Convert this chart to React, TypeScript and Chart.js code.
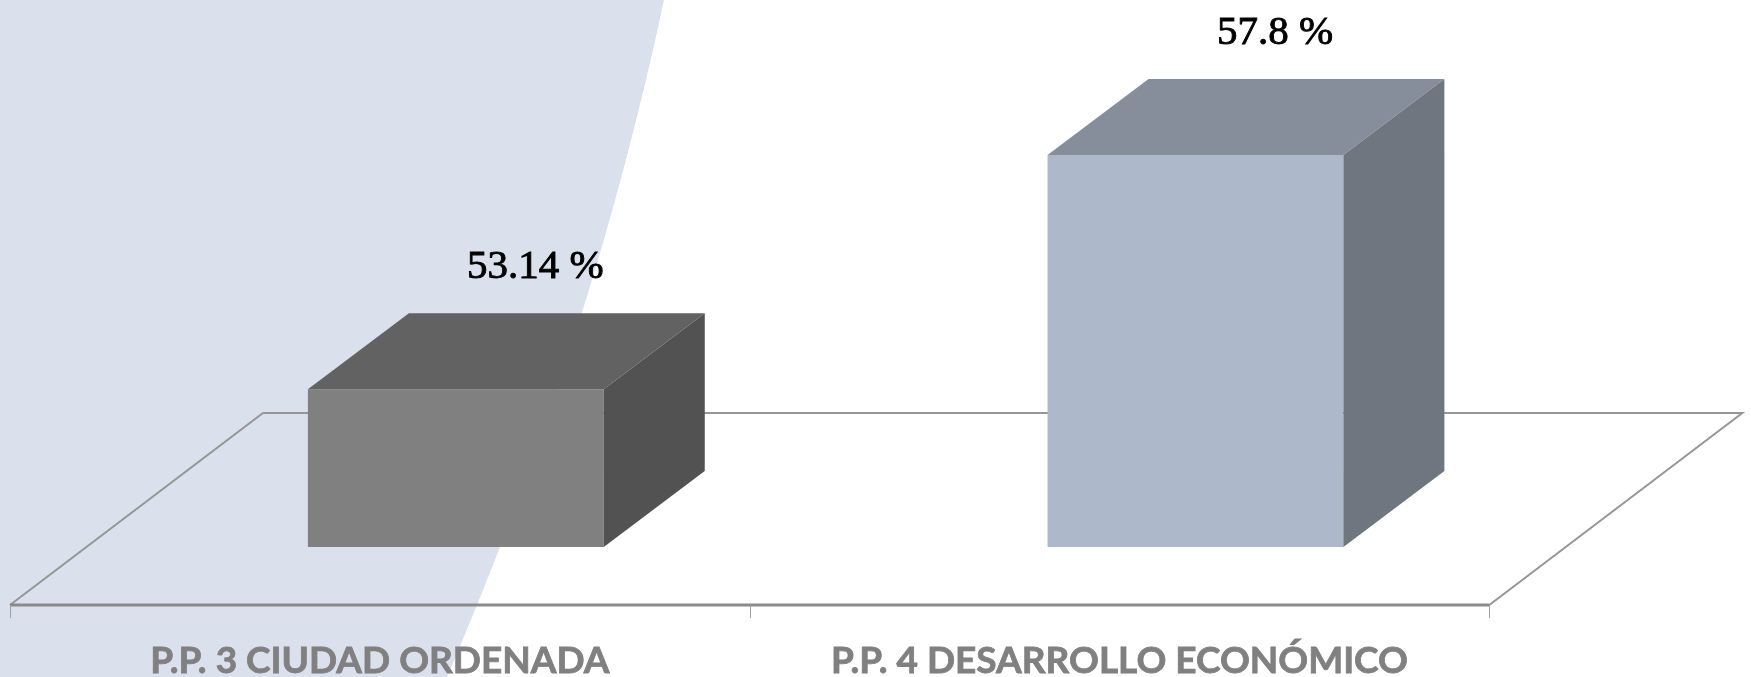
import { useEffect, useRef } from 'react';
import { Chart, registerables } from 'chart.js';

Chart.register(...registerables);

// ---- data ----
const categories = ['P.P. 3 CIUDAD ORDENADA', 'P.P. 4 DESARROLLO ECONÓMICO'];
const values = [53.14, 57.8];
const valueLabels = ['53.14 %', '57.8 %'];
const axisMin = 50;
const axisMax = 60;

// ---- styles ----
const frontColors = ['#808080', '#ADB9CA'];
const topColors = ['#626262', '#858E9A'];
const sideColors = ['#525252', '#6F7680'];
const BG_BLUE = '#DAE0EC';

const FLOOR_DX = 253;
const FLOOR_DY = 192;
const BAR_DX = 101;
const BAR_DY = 76;
const SHIFT_X = (FLOOR_DX - BAR_DX) / 2;
const SHIFT_Y = (FLOOR_DY - BAR_DY) / 2;

const threeD = {
  id: 'threeD',
  beforeDraw(chart: any) {
    const ctx = chart.ctx;
    const h = chart.height;
    ctx.save();
    ctx.fillStyle = BG_BLUE;
    ctx.beginPath();
    ctx.moveTo(0, 0);
    ctx.lineTo(664, 0);
    ctx.quadraticCurveTo(592, h / 2, 447, h);
    ctx.lineTo(0, h);
    ctx.closePath();
    ctx.fill();
    ctx.restore();
  },
  beforeDatasetsDraw(chart: any) {
    const { ctx, chartArea: a, scales } = chart;
    const xs = scales.x;
    const fl = a.left - SHIFT_X;
    const fr = a.right - SHIFT_X;
    const fy = a.bottom + SHIFT_Y;
    ctx.save();
    // floor outline
    ctx.strokeStyle = '#969696';
    ctx.lineWidth = 2;
    ctx.beginPath();
    ctx.moveTo(fl, fy);
    ctx.lineTo(fl + FLOOR_DX, fy - FLOOR_DY);
    ctx.lineTo(fr + FLOOR_DX, fy - FLOOR_DY);
    ctx.lineTo(fr, fy);
    ctx.stroke();
    ctx.strokeStyle = '#8A8A8A';
    ctx.lineWidth = 3;
    ctx.beginPath();
    ctx.moveTo(fl, fy);
    ctx.lineTo(fr, fy);
    ctx.stroke();
    // ticks
    const n = categories.length;
    const catW = (a.right - a.left) / n;
    ctx.strokeStyle = '#A0A0A0';
    ctx.lineWidth = 1;
    for (let i = 0; i <= n; i++) {
      const tx = Math.round(fl + i * catW) + 0.5;
      ctx.beginPath();
      ctx.moveTo(tx, fy);
      ctx.lineTo(tx, fy + 13);
      ctx.stroke();
    }
    // category labels
    ctx.fillStyle = '#808080';
    ctx.strokeStyle = '#808080';
    ctx.lineWidth = 0.8;
    ctx.font = 'bold 37px Lato';
    ctx.textAlign = 'center';
    ctx.textBaseline = 'alphabetic';
    xs.getLabels().forEach((lab: string, i: number) => {
      const lx = xs.getPixelForValue(i) - SHIFT_X;
      ctx.fillText(lab, lx, fy + 68);
      ctx.strokeText(lab, lx, fy + 68);
    });
    ctx.restore();
  },
  afterDatasetsDraw(chart: any) {
    const ctx = chart.ctx;
    const meta = chart.getDatasetMeta(0);
    const bottom = chart.chartArea.bottom;
    ctx.save();
    meta.data.forEach((el: any, i: number) => {
      const p = el.getProps(['x', 'y', 'base', 'width'], true);
      const { x, y, width } = p;
      const base = Math.min(p.base, bottom);
      const l = x - width / 2;
      const r = x + width / 2;
      // top face
      ctx.fillStyle = topColors[i];
      ctx.beginPath();
      ctx.moveTo(l, y);
      ctx.lineTo(r, y);
      ctx.lineTo(r + BAR_DX, y - BAR_DY);
      ctx.lineTo(l + BAR_DX, y - BAR_DY);
      ctx.closePath();
      ctx.fill();
      // side face
      ctx.fillStyle = sideColors[i];
      ctx.beginPath();
      ctx.moveTo(r, y);
      ctx.lineTo(r + BAR_DX, y - BAR_DY);
      ctx.lineTo(r + BAR_DX, base - BAR_DY);
      ctx.lineTo(r, base);
      ctx.closePath();
      ctx.fill();
      // value label
      ctx.fillStyle = '#000000';
      ctx.strokeStyle = '#000000';
      ctx.lineWidth = 0.9;
      ctx.font = '41px "Liberation Serif"';
      ctx.textAlign = 'center';
      ctx.textBaseline = 'alphabetic';
      const vx = x + BAR_DX / 2 + 29;
      const vy = y - BAR_DY - 35;
      ctx.fillText(valueLabels[i], vx, vy);
      ctx.strokeText(valueLabels[i], vx, vy);
    });
    ctx.restore();
  },
};

export default function App() {
  const ref = useRef<HTMLCanvasElement>(null);
  useEffect(() => {
    if (!ref.current) return;
    const chart = new Chart(ref.current, {
      type: 'bar',
      data: {
        labels: categories,
        datasets: [
          {
            data: values,
            backgroundColor: frontColors,
            borderWidth: 0,
            categoryPercentage: 1,
            barPercentage: 0.4,
          },
        ],
      },
      options: {
        responsive: false,
        animation: false,
        layout: { padding: { left: 86, right: 185.7, top: 44.5, bottom: 130 } },
        plugins: { legend: { display: false }, tooltip: { enabled: false } },
        scales: {
          x: { display: false, offset: true },
          y: { display: false, min: axisMin, max: axisMax },
        },
      },
      plugins: [threeD],
    });
    return () => chart.destroy();
  }, []);
  return (
    <div style={{ position: 'fixed', left: 0, top: 0, width: 1751, height: 677, background: '#ffffff' }}>
      <canvas ref={ref} width={1751} height={677} style={{ display: 'block' }} />
    </div>
  );
}
